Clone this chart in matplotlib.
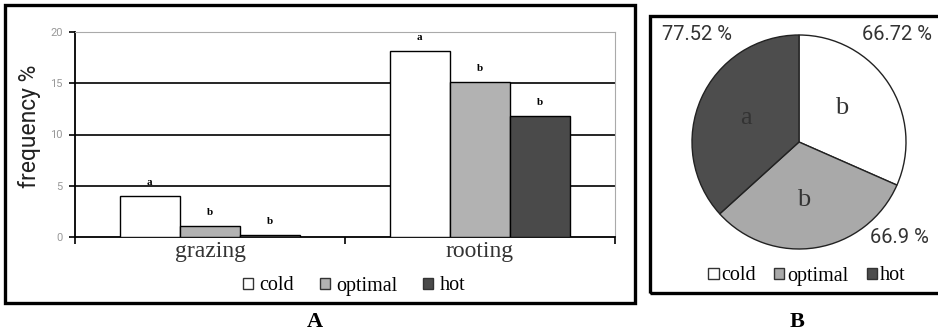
import matplotlib
matplotlib.use("Agg")
import matplotlib.pyplot as plt
from matplotlib.patches import Rectangle, Patch
import numpy as np

# ---- data ----
categories = ["grazing", "rooting"]
series_names = ["cold", "optimal", "hot"]
cold_vals = [4.0, 18.1]
optimal_vals = [1.05, 15.1]
hot_vals = [0.2, 11.8]
bar_letters = [["a", "b", "b"], ["a", "b", "b"]]
y_ticks = [0, 5, 10, 15, 20]

pie_values = [66.72, 66.9, 77.52]          # cold, optimal, hot
pie_pct_labels = ["66.72 %", "66.9 %", "77.52 %"]
pie_letters = ["b", "b", "a"]

colors = ["#ffffff", "#b2b2b2", "#4a4a4a"]
pie_colors = ["#ffffff", "#a9a9a9", "#4d4d4d"]

W, H = 938, 335
fig = plt.figure(figsize=(W / 100, H / 100), dpi=100)

def fx(px):
    return px / W

def fy(py):
    return 1 - py / H

narrow = "Roboto"
serif = "Liberation Serif"

# ---- panel A ----
axA = fig.add_axes([fx(75), fy(237), fx(615) - fx(75), fy(32) - fy(237)])
x = np.arange(len(categories))
bw = 0.223
all_series = [cold_vals, optimal_vals, hot_vals]
for i, (vals, name, col) in enumerate(zip(all_series, series_names, colors)):
    pos = x + (i - 1) * bw
    bars = axA.bar(pos, vals, width=bw, color=col, edgecolor="black", linewidth=1.0,
                   label=name, zorder=3)
    for j, b in enumerate(bars):
        axA.annotate(bar_letters[j][i], (b.get_x() + b.get_width() / 2, b.get_height()),
                     xytext=(0, 10), textcoords="offset points", ha="center", va="center",
                     fontsize=8, fontweight="bold", family=serif, zorder=4)

axA.set_xlim(-0.5, 1.5)
axA.set_ylim(0, 20)
axA.set_yticks(y_ticks)
axA.set_yticklabels([str(t) for t in y_ticks], color="#999999", fontsize=8, family=narrow)
for t in y_ticks[1:-1]:
    axA.axhline(t, color="black", linewidth=1.2, zorder=1)
axA.set_xticks([-0.5, 0.5, 1.5])
axA.set_xticklabels([])
axA.set_xticks(x, minor=True)
axA.set_xticklabels(categories, minor=True, fontsize=17, family=serif, color="#333333")
axA.tick_params(axis="x", which="minor", length=0, pad=3)
axA.tick_params(axis="x", which="major", length=5, direction="out", width=1.2)
axA.tick_params(axis="y", length=4, width=1.2, pad=5)
axA.spines["top"].set_color("#aaaaaa")
axA.spines["right"].set_color("#aaaaaa")
axA.spines["left"].set_linewidth(1.3)
axA.spines["bottom"].set_linewidth(1.3)
axA.set_ylabel("frequency %", fontsize=16.5, color="#222222", family=narrow)
axA.yaxis.set_label_coords(-0.063, 0.54)

handles = [Patch(facecolor=c, edgecolor="#333333", linewidth=1.0) for c in colors]
fig.legend(handles, series_names, loc="center", bbox_to_anchor=(fx(354), fy(286)),
           ncol=3, frameon=False, prop={"family": serif, "size": 14.5},
           handlelength=0.5, handleheight=0.5, handletextpad=0.3, columnspacing=1.3)

# ---- panel B ----
cx, cy, r = 799, 142, 107
axB = fig.add_axes([fx(cx - r), fy(cy + r), fx(2 * r), fy(0) - fy(2 * r)])
wedges, _ = axB.pie(pie_values, colors=pie_colors, startangle=90, counterclock=False,
                    wedgeprops=dict(edgecolor="#222222", linewidth=1.0))
axB.set_xlim(-1, 1)
axB.set_ylim(-1, 1)

pct_pos = [(0.92, 1.0), (0.94, -0.89), (-0.95, 1.0)]
letter_pos = [(0.40, 0.32), (0.04, -0.54), (-0.50, 0.22)]
for lab, (px, py) in zip(pie_pct_labels, pct_pos):
    axB.text(px, py, lab, ha="center", va="center", fontsize=14.5, color="#333333",
             clip_on=False, family=narrow)
for lab, (px, py) in zip(pie_letters, letter_pos):
    axB.text(px, py, lab, ha="center", va="center", fontsize=19, family=serif,
             color="#333333")

handlesB = [Patch(facecolor=c, edgecolor="#333333", linewidth=1.0) for c in pie_colors]
fig.legend(handlesB, series_names, loc="center", bbox_to_anchor=(fx(807), fy(276)),
           ncol=3, frameon=False, prop={"family": serif, "size": 14.5},
           handlelength=0.5, handleheight=0.5, handletextpad=0.15, columnspacing=0.9)

# ---- frames and panel letters ----
fig.patches.append(Rectangle((fx(5), fy(303)), fx(635) - fx(5), fy(5) - fy(303),
                             transform=fig.transFigure, fill=False, edgecolor="black",
                             linewidth=2.4))
fig.patches.append(Rectangle((fx(650), fy(293)), fx(960) - fx(650), fy(16) - fy(293),
                             transform=fig.transFigure, fill=False, edgecolor="black",
                             linewidth=2.4, clip_on=False))
fig.text(fx(315), fy(322), "A", ha="center", va="center", fontsize=16,
         fontweight="bold", family=serif)
fig.text(fx(797), fy(322), "B", ha="center", va="center", fontsize=16,
         fontweight="bold", family=serif)

fig.savefig("out.png", dpi=100)
